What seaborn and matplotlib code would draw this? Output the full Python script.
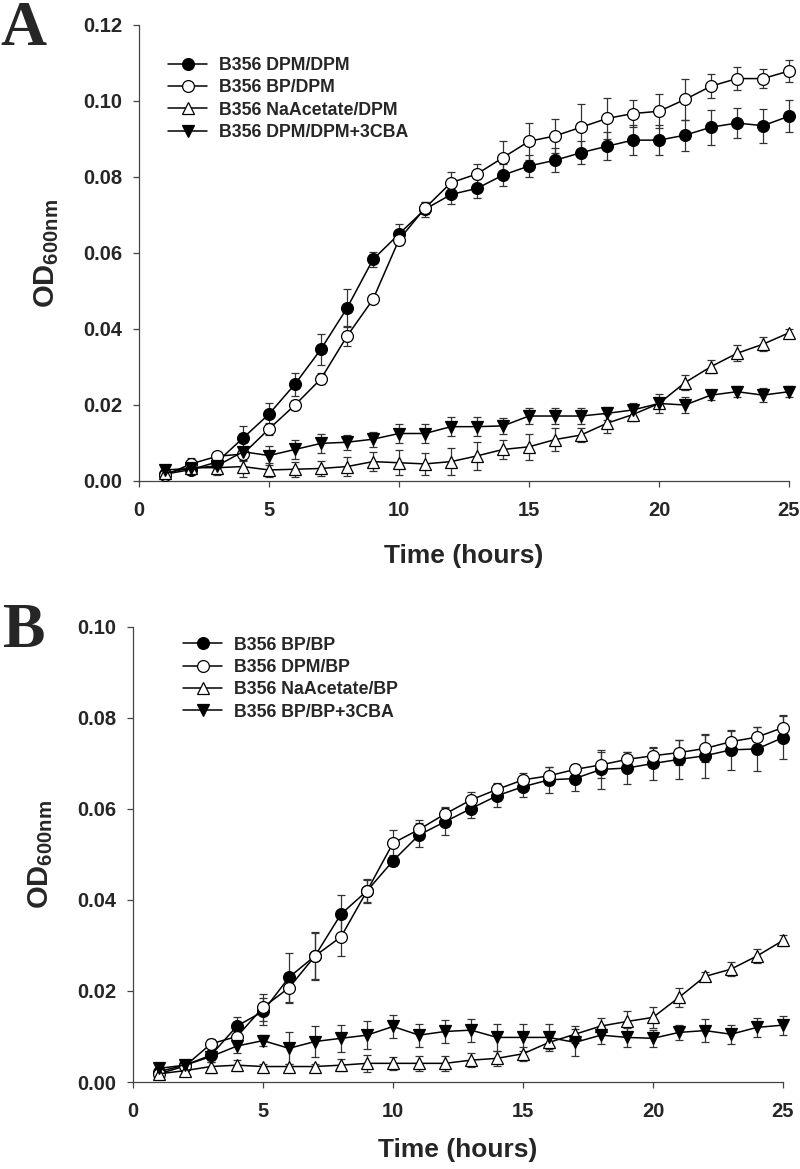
import pandas as pd
import matplotlib
matplotlib.use('Agg')
import matplotlib.pyplot as plt
import seaborn as sns

sns.set_style('ticks')
plt.rcParams['font.family'] = ['Liberation Sans', 'DejaVu Sans']
plt.rcParams['mathtext.fontset'] = 'custom'
plt.rcParams['mathtext.rm'] = 'Liberation Sans:bold'
plt.rcParams['mathtext.it'] = 'Liberation Sans:bold'
plt.rcParams['mathtext.bf'] = 'Liberation Sans:bold'

# 时间（小时）
hours = list(range(1, 26))

# Panel A
a_labels = ['B356 DPM/DPM', 'B356 BP/DPM', 'B356 NaAcetate/DPM', 'B356 DPM/DPM+3CBA']
a_dpm_dpm = [0.0018, 0.0030, 0.0050, 0.0113, 0.0176, 0.0255, 0.0347, 0.0455, 0.0583, 0.0650,
             0.0715, 0.0754, 0.0770, 0.0805, 0.0829, 0.0844, 0.0864, 0.0881, 0.0897, 0.0897,
             0.0910, 0.0931, 0.0942, 0.0935, 0.0960]
a_dpm_dpm_sd = [0.0010, 0.0010, 0.0015, 0.0033, 0.0028, 0.0030, 0.0041, 0.0051, 0.0020, 0.0025,
                0.0020, 0.0024, 0.0024, 0.0029, 0.0028, 0.0031, 0.0030, 0.0037, 0.0040, 0.0040,
                0.0041, 0.0046, 0.0039, 0.0045, 0.0042]
a_bp_dpm = [0.0015, 0.0045, 0.0065, 0.0071, 0.0137, 0.0200, 0.0269, 0.0381, 0.0478, 0.0635,
            0.0718, 0.0785, 0.0808, 0.0851, 0.0894, 0.0908, 0.0931, 0.0954, 0.0967, 0.0973,
            0.1004, 0.1039, 0.1059, 0.1059, 0.1079]
a_bp_dpm_sd = [0.0010, 0.0015, 0.0010, 0.0015, 0.0015, 0.0012, 0.0015, 0.0027, 0.0008, 0.0015,
               0.0015, 0.0029, 0.0027, 0.0044, 0.0048, 0.0045, 0.0060, 0.0055, 0.0035, 0.0045,
               0.0053, 0.0032, 0.0031, 0.0025, 0.0030]
a_naac_dpm = [0.0020, 0.0035, 0.0035, 0.0038, 0.0029, 0.0031, 0.0033, 0.0038, 0.0051, 0.0048,
              0.0045, 0.0051, 0.0066, 0.0083, 0.0090, 0.0109, 0.0121, 0.0152, 0.0175, 0.0204,
              0.0259, 0.0301, 0.0336, 0.0360, 0.0390]
a_naac_dpm_sd = [0.0010, 0.0015, 0.0020, 0.0028, 0.0018, 0.0020, 0.0020, 0.0026, 0.0025, 0.0033,
                 0.0030, 0.0036, 0.0037, 0.0025, 0.0035, 0.0030, 0.0019, 0.0025, 0.0018, 0.0011,
                 0.0019, 0.0017, 0.0021, 0.0019, 0.0011]
a_dpm_3cba = [0.0029, 0.0033, 0.0040, 0.0077, 0.0067, 0.0083, 0.0099, 0.0102, 0.0110, 0.0125,
              0.0125, 0.0143, 0.0143, 0.0145, 0.0171, 0.0171, 0.0171, 0.0178, 0.0187, 0.0204,
              0.0200, 0.0226, 0.0235, 0.0226, 0.0235]
a_dpm_3cba_sd = [0.0010, 0.0015, 0.0020, 0.0025, 0.0026, 0.0024, 0.0024, 0.0020, 0.0020, 0.0025,
                 0.0025, 0.0025, 0.0025, 0.0020, 0.0021, 0.0021, 0.0020, 0.0018, 0.0017, 0.0024,
                 0.0020, 0.0014, 0.0015, 0.0018, 0.0015]

# Panel B
b_labels = ['B356 BP/BP', 'B356 DPM/BP', 'B356 NaAcetate/BP', 'B356 BP/BP+3CBA']
b_bp_bp = [0.0023, 0.0037, 0.0059, 0.0123, 0.0155, 0.0230, 0.0277, 0.0369, 0.0420, 0.0486,
           0.0543, 0.0572, 0.0601, 0.0629, 0.0649, 0.0664, 0.0667, 0.0687, 0.0690, 0.0700,
           0.0709, 0.0717, 0.0730, 0.0732, 0.0757]
b_bp_bp_sd = [0.0010, 0.0010, 0.0015, 0.0020, 0.0030, 0.0054, 0.0050, 0.0043, 0.0025, 0.0012,
              0.0027, 0.0030, 0.0020, 0.0025, 0.0022, 0.0028, 0.0027, 0.0042, 0.0035, 0.0037,
              0.0043, 0.0048, 0.0044, 0.0048, 0.0047]
b_dpm_bp = [0.0018, 0.0035, 0.0084, 0.0100, 0.0164, 0.0207, 0.0277, 0.0319, 0.0420, 0.0525,
            0.0555, 0.0589, 0.0620, 0.0643, 0.0664, 0.0673, 0.0687, 0.0697, 0.0709, 0.0717,
            0.0724, 0.0733, 0.0748, 0.0758, 0.0779]
b_dpm_bp_sd = [0.0010, 0.0010, 0.0010, 0.0015, 0.0030, 0.0033, 0.0053, 0.0042, 0.0027, 0.0029,
               0.0021, 0.0015, 0.0018, 0.0015, 0.0015, 0.0020, 0.0013, 0.0029, 0.0017, 0.0017,
               0.0028, 0.0029, 0.0024, 0.0023, 0.0028]
b_naac_bp = [0.0018, 0.0025, 0.0034, 0.0037, 0.0034, 0.0034, 0.0034, 0.0037, 0.0041, 0.0041,
             0.0041, 0.0041, 0.0048, 0.0052, 0.0062, 0.0087, 0.0105, 0.0123, 0.0133, 0.0142,
             0.0186, 0.0232, 0.0248, 0.0277, 0.0311]
b_naac_bp_sd = [0.0008, 0.0008, 0.0015, 0.0012, 0.0005, 0.0005, 0.0005, 0.0013, 0.0018, 0.0015,
                0.0016, 0.0016, 0.0015, 0.0016, 0.0015, 0.0015, 0.0019, 0.0017, 0.0024, 0.0023,
                0.0021, 0.0010, 0.0015, 0.0015, 0.0011]
b_bp_3cba = [0.0030, 0.0037, 0.0056, 0.0079, 0.0091, 0.0074, 0.0089, 0.0096, 0.0103, 0.0122,
             0.0103, 0.0111, 0.0114, 0.0098, 0.0098, 0.0098, 0.0087, 0.0103, 0.0098, 0.0096,
             0.0109, 0.0113, 0.0105, 0.0120, 0.0125]
b_bp_3cba_sd = [0.0008, 0.0008, 0.0012, 0.0015, 0.0012, 0.0035, 0.0035, 0.0030, 0.0030, 0.0025,
                0.0025, 0.0026, 0.0025, 0.0029, 0.0029, 0.0029, 0.0029, 0.0020, 0.0020, 0.0018,
                0.0017, 0.0025, 0.0021, 0.0020, 0.0021]

# 标记样式：实心圆、空心圆、空心三角、实心倒三角
marker_styles = [('o', 'black'), ('o', 'white'), ('^', 'white'), ('v', 'black')]


def make_df(labels, values, sds):
    rows = []
    for lab, v, s in zip(labels, values, sds):
        for t, y, e in zip(hours, v, s):
            rows.append({'time': t, 'od': y, 'sd': e, 'series': lab})
    return pd.DataFrame(rows)


def draw_panel(ax, df, labels, ymax, legend_xy, letter, letter_xy, xpad):
    for lab, (mk, fc) in zip(labels, marker_styles):
        sub = df[df['series'] == lab]
        eb = ax.errorbar(sub['time'], sub['od'], yerr=sub['sd'], fmt='none',
                         ecolor='#333333', elinewidth=0.9, capsize=3.2, capthick=0.9, zorder=1)
        for art in eb.lines[1] + eb.lines[2]:
            art.set_clip_on(False)
        sns.lineplot(data=sub, x='time', y='od', ax=ax, color='black', lw=1.1,
                     marker=mk, markersize=8.5 if mk == 'o' else 9,
                     markerfacecolor=fc, markeredgecolor='black', markeredgewidth=0.9,
                     label=lab, zorder=3, clip_on=False)
    ax.set_xlim(0, 25)
    ax.set_ylim(0, ymax)
    ax.set_xticks([0, 5, 10, 15, 20, 25])
    ax.set_yticks([round(i * 0.02, 2) for i in range(int(round(ymax / 0.02)) + 1)])
    ax.yaxis.set_major_formatter(matplotlib.ticker.FormatStrFormatter('%.2f'))
    for sp in ['top', 'right']:
        ax.spines[sp].set_visible(False)
    for sp in ['left', 'bottom']:
        ax.spines[sp].set_color('#444444')
        ax.spines[sp].set_linewidth(0.9)
    ax.tick_params(axis='both', direction='out', length=4.5, width=0.9, color='#444444',
                   labelsize=14.5)
    ax.tick_params(axis='y', pad=7.5)
    ax.tick_params(axis='x', pad=10)
    for lbl in ax.get_xticklabels() + ax.get_yticklabels():
        lbl.set_fontweight('bold')
    ax.set_xlabel('Time (hours)', fontsize=19, fontweight='bold', labelpad=xpad)
    ax.set_ylabel(r'OD$_{\mathbf{600nm}}$', fontsize=21, fontweight='bold', labelpad=16)
    ax.legend(loc='upper left', bbox_to_anchor=legend_xy, frameon=False,
              borderpad=0, borderaxespad=0, handlelength=2.2, handletextpad=0.65,
              labelspacing=0.3, prop={'size': 12.8, 'weight': 'bold'})
    fig.text(letter_xy[0], letter_xy[1], letter, fontsize=46, fontweight='bold',
             family='Liberation Serif', ha='left', va='baseline')


fig = plt.figure(figsize=(8, 11.69), dpi=100)
ax_a = fig.add_axes([139 / 800, 1 - 481 / 1169, 650 / 800, 456 / 1169])
ax_b = fig.add_axes([133 / 800, 1 - 1082 / 1169, 650 / 800, 455 / 1169])

df_a = make_df(a_labels, [a_dpm_dpm, a_bp_dpm, a_naac_dpm, a_dpm_3cba],
               [a_dpm_dpm_sd, a_bp_dpm_sd, a_naac_dpm_sd, a_dpm_3cba_sd])
df_b = make_df(b_labels, [b_bp_bp, b_dpm_bp, b_naac_bp, b_bp_3cba],
               [b_bp_bp_sd, b_dpm_bp_sd, b_naac_bp_sd, b_bp_3cba_sd])

draw_panel(ax_a, df_a, a_labels, 0.12, (0.045, 0.93), 'A', (0.0, 1 - 45 / 1169), 17)
draw_panel(ax_b, df_b, b_labels, 0.10, (0.077, 0.979), 'B', (0.004, 1 - 647 / 1169), 12)

fig.savefig('out.png', dpi=100)
